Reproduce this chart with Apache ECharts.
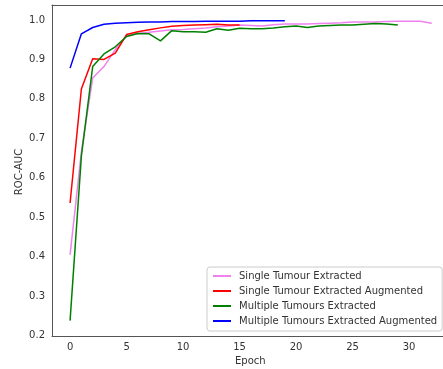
<!DOCTYPE html>
<html>
<head>
<meta charset="utf-8">
<script src="https://cdn.jsdelivr.net/npm/echarts@6/dist/echarts.min.js"></script>
<style>
  html, body { margin: 0; padding: 0; background: #fff; }
  #chart { width: 443px; height: 369px; }
</style>
</head>
<body>
<div id="chart"></div>
<script>
// ROC-AUC per training epoch for four model variants
const seriesNames = [
  'Single Tumour Extracted',
  'Single Tumour Extracted Augmented',
  'Multiple Tumours Extracted',
  'Multiple Tumours Extracted Augmented'
];

const singleExtracted = [
  0.405, 0.665, 0.853, 0.882, 0.925, 0.960, 0.966, 0.969, 0.972, 0.975,
  0.976, 0.978, 0.980, 0.983, 0.985, 0.987, 0.986, 0.985, 0.988, 0.990,
  0.990, 0.990, 0.991, 0.992, 0.993, 0.995, 0.995, 0.995, 0.996, 0.997,
  0.997, 0.997, 0.992
];

const singleAugmented = [
  0.536, 0.825, 0.902, 0.900, 0.916, 0.963, 0.970, 0.975, 0.980, 0.984,
  0.986, 0.987, 0.988, 0.989, 0.987, 0.987
];

const multipleExtracted = [
  0.238, 0.655, 0.882, 0.914, 0.932, 0.958, 0.966, 0.965, 0.947, 0.973,
  0.970, 0.970, 0.969, 0.978, 0.974, 0.979, 0.978, 0.978, 0.980, 0.983,
  0.985, 0.981, 0.985, 0.986, 0.987, 0.987, 0.989, 0.991, 0.990, 0.987
];

const multipleAugmented = [
  0.878, 0.965, 0.981, 0.989, 0.992, 0.993, 0.994, 0.995, 0.995, 0.996,
  0.996, 0.996, 0.997, 0.997, 0.997, 0.997, 0.998, 0.998, 0.998, 0.998
];

const xTicks = [0, 5, 10, 15, 20, 25, 30];
const yTicks = [0.2, 0.3, 0.4, 0.5, 0.6, 0.7, 0.8, 0.9, 1.0];

const seriesValues = [singleExtracted, singleAugmented, multipleExtracted, multipleAugmented];
const seriesColors = ['#ee82ee', '#ff0000', '#008000', '#0000ff'];

const FONT = 'DejaVu Sans';
const TEXT = '#333333';
const SPINE = '#555555';

const chart = echarts.init(document.getElementById('chart'), null, { renderer: 'canvas' });

const xBase = {
  type: 'value',
  min: -1.6,
  max: 33.0,
  splitLine: { show: false },
  axisTick: { show: false }
};

chart.setOption({
  animation: false,
  backgroundColor: '#ffffff',
  grid: { left: 52, right: 0, top: 5, bottom: 33 },
  xAxis: [
    Object.assign({}, xBase, {
      position: 'bottom',
      axisLine: { show: true, onZero: false, lineStyle: { color: SPINE, width: 1 } },
      axisLabel: {
        customValues: xTicks,
        margin: 6,
        fontFamily: FONT, fontSize: 10, color: TEXT
      }
    }),
    Object.assign({}, xBase, {
      position: 'top',
      axisLine: { show: true, onZero: false, lineStyle: { color: SPINE, width: 1 } },
      axisLabel: { show: false }
    })
  ],
  yAxis: {
    type: 'value',
    min: 0.199,
    max: 1.038,
    splitLine: { show: false },
    axisTick: { show: false },
    axisLine: { show: true, onZero: false, lineStyle: { color: SPINE, width: 1 } },
    axisLabel: {
      customValues: yTicks,
      margin: 7,
      formatter: v => v.toFixed(1),
      fontFamily: FONT, fontSize: 10, color: TEXT
    }
  },
  legend: {
    orient: 'vertical',
    left: 207,
    top: 267,
    padding: [3, 5, 4, 6],
    itemGap: 3,
    itemWidth: 18,
    itemHeight: 2,
    icon: 'rect',
    backgroundColor: 'rgba(255,255,255,0.85)',
    borderColor: '#cccccc',
    borderWidth: 1,
    borderRadius: 3,
    textStyle: {
      fontFamily: FONT, fontSize: 10, color: TEXT,
      lineHeight: 12, padding: [0, 0, 0, 3]
    },
    data: seriesNames
  },
  graphic: [
    {
      type: 'text',
      left: 235, top: 356,
      style: { text: 'Epoch', font: '10px "DejaVu Sans"', fill: TEXT }
    },
    {
      type: 'text',
      x: 19, y: 172,
      rotation: Math.PI / 2,
      style: {
        text: 'ROC-AUC', font: '10px "DejaVu Sans"', fill: TEXT,
        align: 'center', verticalAlign: 'middle'
      }
    }
  ],
  series: seriesNames.map((name, i) => ({
    name: name,
    type: 'line',
    xAxisIndex: 0,
    data: seriesValues[i].map((v, e) => [e, v]),
    showSymbol: false,
    symbol: 'none',
    color: seriesColors[i],
    lineStyle: { color: seriesColors[i], width: 1.5 },
    z: 2 + i
  }))
});
</script>
</body>
</html>
